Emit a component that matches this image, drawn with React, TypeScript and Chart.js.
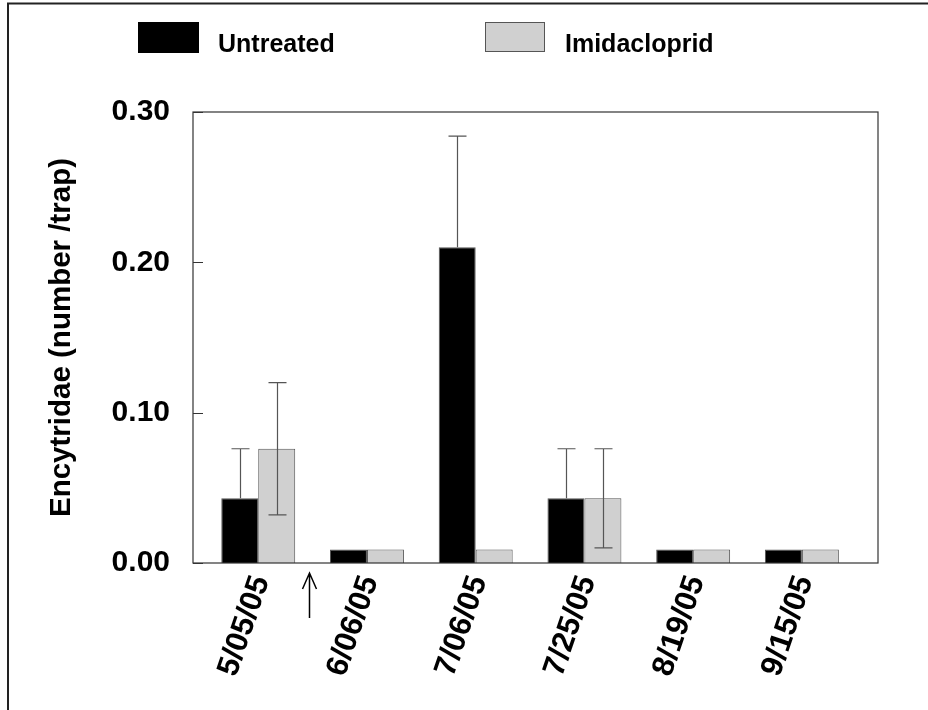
import React, { useEffect, useRef } from "react";
import { Chart, registerables } from "chart.js";

Chart.register(...registerables);

// ---- data ----
const dates = ["5/05/05", "6/06/05", "7/06/05", "7/25/05", "8/19/05", "9/15/05"];
const seriesNames = ["Untreated", "Imidacloprid"];
const untreated = [0.043, 0.009, 0.21, 0.043, 0.009, 0.009];
const untreatedErr = [0.033, 0, 0.074, 0.033, 0, 0];
const imidacloprid = [0.076, 0.009, 0.009, 0.043, 0.009, 0.009];
const imidaclopridErr = [0.044, 0, 0, 0.033, 0, 0];
const yTicks = [0, 0.1, 0.2, 0.3];
const arrowAt = 0.47; // treatment arrow, between 5/05/05 and 6/06/05

const FONT = '"Liberation Sans", Arial, Helvetica, sans-serif';
const GRAY = "#d0d0d0";
const EDGE = "#555555";

const errors = [untreatedErr, imidaclopridErr];
const showLower = [false, true];

const decorPlugin = {
  id: "decor",
  afterDatasetsDraw(chart: any) {
    const ctx = chart.ctx;
    const yScale = chart.scales.y;
    ctx.save();
    ctx.strokeStyle = "#555";
    ctx.lineWidth = 1.2;
    chart.data.datasets.forEach((ds: any, di: number) => {
      const meta = chart.getDatasetMeta(di);
      meta.data.forEach((el: any, i: number) => {
        const err = errors[di][i];
        if (!err) return;
        const v = ds.data[i].y;
        const x = Math.round(el.x) + 0.5;
        const yTop = yScale.getPixelForValue(v + err);
        const yBot = showLower[di] ? yScale.getPixelForValue(v - err) : el.y;
        const cap = 9;
        ctx.beginPath();
        ctx.moveTo(x, yTop);
        ctx.lineTo(x, yBot);
        ctx.moveTo(x - cap, yTop);
        ctx.lineTo(x + cap, yTop);
        if (showLower[di]) {
          ctx.moveTo(x - cap, yBot);
          ctx.lineTo(x + cap, yBot);
        }
        ctx.stroke();
      });
    });
    ctx.restore();
  },
  afterDraw(chart: any) {
    const ctx = chart.ctx;
    const { left, right, top, bottom } = chart.chartArea;
    const yScale = chart.scales.y;
    const xScale = chart.scales.x;
    ctx.save();
    // plot box
    ctx.strokeStyle = "#333";
    ctx.lineWidth = 1.2;
    ctx.strokeRect(left, top, right - left, bottom - top);
    // inner y tick marks
    ctx.beginPath();
    yTicks.forEach((t) => {
      const y = Math.round(yScale.getPixelForValue(t)) + 0.5;
      ctx.moveTo(left, y);
      ctx.lineTo(left + 10, y);
    });
    ctx.stroke();
    // arrow
    const ax = Math.round(xScale.getPixelForValue(arrowAt)) + 0.5;
    ctx.strokeStyle = "#000";
    ctx.lineWidth = 1.5;
    ctx.beginPath();
    ctx.moveTo(ax, bottom + 10);
    ctx.lineTo(ax, bottom + 55);
    ctx.moveTo(ax - 7, bottom + 26);
    ctx.lineTo(ax, bottom + 10);
    ctx.lineTo(ax + 7, bottom + 26);
    ctx.stroke();
    // legend
    ctx.fillStyle = "#000";
    ctx.fillRect(138, 22, 61, 31);
    ctx.fillStyle = GRAY;
    ctx.fillRect(485, 22, 60, 30);
    ctx.strokeStyle = EDGE;
    ctx.lineWidth = 1;
    ctx.strokeRect(485.5, 22.5, 59, 29);
    ctx.fillStyle = "#000";
    ctx.font = `bold 25px ${FONT}`;
    ctx.textBaseline = "alphabetic";
    ctx.textAlign = "left";
    ctx.fillText(seriesNames[0], 218, 52);
    ctx.fillText(seriesNames[1], 565, 52);
    // outer frame
    ctx.strokeStyle = "#222";
    ctx.lineWidth = 2;
    ctx.beginPath();
    ctx.moveTo(8, 720);
    ctx.lineTo(8, 3.5);
    ctx.lineTo(940, 3.5);
    ctx.stroke();
    ctx.restore();
  },
};

export default function App() {
  const ref = useRef<HTMLCanvasElement>(null);
  useEffect(() => {
    if (!ref.current) return;
    const chart = new Chart(ref.current, {
      type: "bar",
      data: {
        datasets: [
          {
            label: seriesNames[0],
            data: untreated.map((v, i) => ({ x: i, y: v })),
            backgroundColor: "#000",
            borderColor: EDGE,
            borderWidth: 1,
          },
          {
            label: seriesNames[1],
            data: imidacloprid.map((v, i) => ({ x: i, y: v })),
            backgroundColor: GRAY,
            borderColor: EDGE,
            borderWidth: 1,
          },
        ],
      },
      options: {
        animation: false,
        responsive: false,
        devicePixelRatio: 1,
        datasets: { bar: { categoryPercentage: 0.68, barPercentage: 1.0 } },
        layout: { padding: { left: 40, right: 50, top: 112, bottom: 0 } },
        plugins: { legend: { display: false }, tooltip: { enabled: false } },
        scales: {
          x: {
            type: "linear",
            min: -0.6,
            max: 5.7,
            offset: false,
            grid: { display: false, drawTicks: false },
            border: { display: false },
            afterBuildTicks: (scale: any) => {
              scale.ticks = dates.map((_, i) => ({ value: i }));
            },
            afterFit: (scale: any) => {
              scale.height = 147;
            },
            ticks: {
              autoSkip: false,
              minRotation: 71,
              maxRotation: 71,
              padding: 8,
              labelOffset: 3,
              color: "#000",
              font: { family: FONT, size: 31, weight: "bold" },
              callback: (v: any) => dates[Math.round(v)] ?? "",
            },
          },
          y: {
            min: 0,
            max: 0.3,
            grid: { display: false, drawTicks: false },
            border: { display: false },
            afterBuildTicks: (scale: any) => {
              scale.ticks = yTicks.map((v) => ({ value: v }));
            },
            afterFit: (scale: any) => {
              scale.width = 153;
            },
            ticks: {
              padding: 23,
              color: "#000",
              font: { family: FONT, size: 30, weight: "bold" },
              callback: (v: any) => Number(v).toFixed(2),
            },
            title: {
              display: true,
              text: "Encytridae (number /trap)",
              color: "#000",
              padding: { top: 4, bottom: 0 },
              font: { family: FONT, size: 29.5, weight: "bold" },
            },
          },
        },
      },
      plugins: [decorPlugin],
    });
    return () => chart.destroy();
  }, []);
  return (
    <div style={{ position: "absolute", left: 0, top: 0, width: 928, height: 710, background: "#fff" }}>
      <canvas ref={ref} width={928} height={710} style={{ display: "block" }} />
    </div>
  );
}
